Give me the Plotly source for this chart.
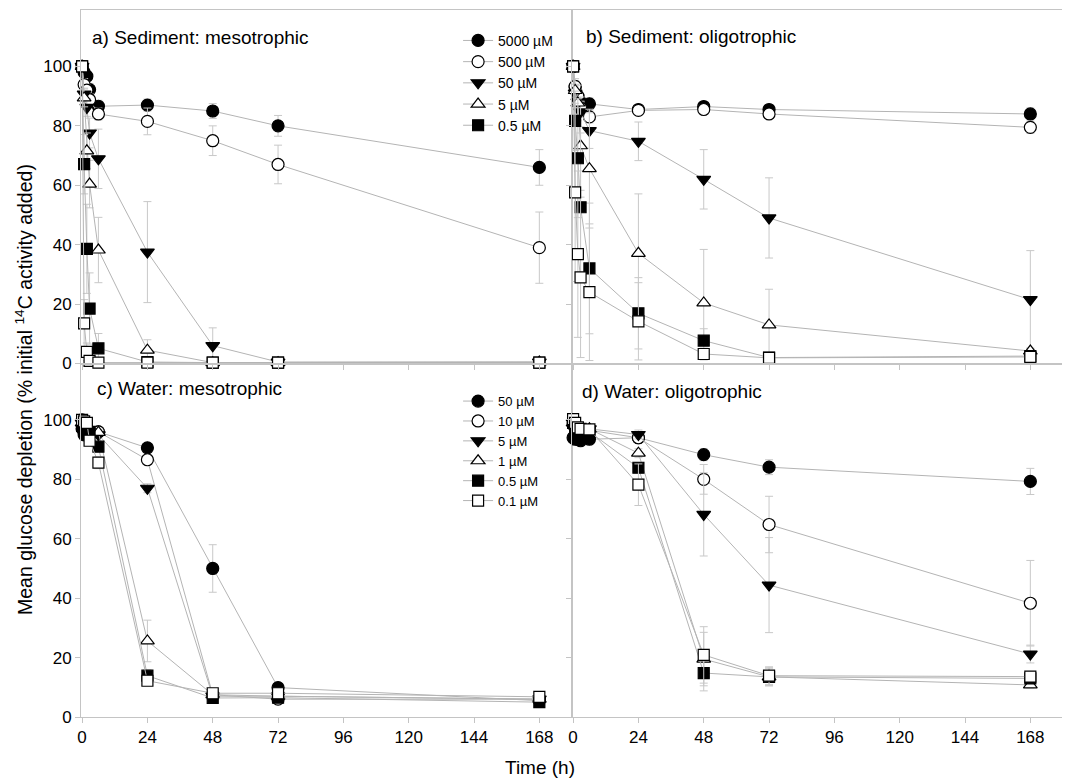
import plotly.graph_objects as go

# ---------------- data ----------------
times = [0, 0.75, 1.75, 2.75, 6, 24, 48, 72, 168]
x_ticks = [0, 24, 48, 72, 96, 120, 144, 168]
y_ticks = [0, 20, 40, 60, 80, 100]

sed_labels = ["5000 µM", "500 µM", "50 µM", "5 µM", "0.5 µM", "0.05 µM"]
wat_labels = ["50 µM", "10 µM", "5 µM", "1 µM", "0.5 µM", "0.1 µM"]
sed_in_legend = [True, True, True, True, True, False]

# a) Sediment: mesotrophic
a_vals = [
    [100, 98, 96.7, 92.2, 86.6, 87.0, 85.0, 80.0, 66.0],
    [100, 93.9, 92.0, 88.8, 84.0, 81.5, 75.0, 67.0, 39.0],
    [100, 90.7, 86.2, 77.6, 68.9, 37.5, 6.0, 0.5, 0.5],
    [100, 89.4, 71.6, 60.4, 38.2, 4.5, 0.3, 0.3, 0.5],
    [100, 67.1, 38.6, 18.5, 5.1, 0.5, 0.3, 0.3, 0.3],
    [100, 13.5, 3.9, 0.9, 0.3, 0.3, 0.3, 0.3, 0.3],
]
a_errs = [
    [0, 1, 1.5, 2, 2, 2, 2.5, 3.5, 6],
    [0, 2, 2, 2, 2, 4.5, 5, 6.5, 12],
    [0, 2, 3, 5, 10, 17, 6, 0.5, 0.5],
    [0, 3, 6, 8, 11, 3.5, 0.3, 0.3, 0.3],
    [0, 10, 15, 12, 5, 0.5, 0.3, 0.3, 0.3],
    [0, 8, 3, 1, 0.5, 0.3, 0.3, 0.3, 0.3],
]

# b) Sediment: oligotrophic
b_vals = [
    [100, 93.0, 90.0, 88.0, 87.4, 85.5, 86.5, 85.5, 84.0],
    [100, 93.3, 90.0, 86.0, 83.0, 85.2, 85.5, 84.0, 79.5],
    [100, 91.0, 88.0, 84.7, 78.4, 74.8, 62.0, 49.0, 21.5],
    [100, 91.9, 87.7, 73.3, 65.6, 37.1, 20.4, 13.0, 4.2],
    [100, 81.7, 69.1, 52.6, 32.0, 16.9, 7.7, 2.0, 2.5],
    [100, 57.6, 36.8, 29.0, 24.0, 14.2, 3.2, 1.9, 2.2],
]
b_errs = [
    [0, 2, 2, 2, 2, 1.5, 1, 1.5, 2],
    [0, 2, 2, 2, 2, 1.5, 1.5, 1.5, 2],
    [0, 3, 4, 5, 6, 6.5, 10, 13.5, 16.5],
    [0, 4, 6, 15, 20, 20, 18, 12, 1],
    [0, 10, 20, 25, 22, 12, 4, 1, 1],
    [0, 30, 28, 27, 23, 13, 2, 1, 1],
]

# c) Water: mesotrophic
c_vals = [
    [97, 95, 96, 96, 96, 90.6, 50.0, 9.9, 5.5],
    [100, 98, 97, 96, 96, 86.6, 7.5, 6.0, 6.0],
    [99, 97, 96, 96, 95, 77.0, 7.0, 7.0, 6.0],
    [99, 98, 96, 96, 95.8, 25.6, 7.5, 7.0, 6.0],
    [98, 97, 96, 96, 91, 13.9, 6.4, 6.5, 5.0],
    [100, 99.5, 99, 93, 85.6, 12.2, 8.0, 8.0, 6.8],
]
c_errs = [
    [1, 1, 1, 1, 1, 1, 8, 1.5, 0.5],
    [0.5, 1, 1, 1, 1, 1.5, 1, 0.5, 0.5],
    [0.5, 1, 1, 1, 1, 1.5, 1, 0.5, 0.5],
    [0.5, 1, 1, 1, 1, 7, 1, 0.5, 0.5],
    [0.5, 1, 1, 1, 1, 2, 1, 0.5, 0.5],
    [0.5, 1, 1, 1, 2, 1.5, 1, 0.5, 0.5],
]

# d) Water: oligotrophic
d_vals = [
    [94, 93.5, 93.5, 93, 93.5, 94.0, 88.3, 84.1, 79.3],
    [99, 98, 97.5, 97, 96.5, 94.0, 80.0, 64.8, 38.3],
    [99, 98, 97, 97, 97, 95.1, 68.2, 44.4, 21.2],
    [99, 98, 97, 97, 97, 88.8, 19.5, 13.5, 10.8],
    [99, 97, 96, 96, 96, 83.9, 14.8, 13.5, 13.0],
    [100.3, 99, 97.5, 97, 96.8, 78.2, 20.9, 13.9, 13.6],
]
d_errs = [
    [1, 1, 1, 1, 1, 1, 2, 2.5, 4.4],
    [0.5, 1, 1, 1, 1, 1.5, 5, 9.5, 14.4],
    [0.5, 1, 1, 1, 1, 1.5, 14, 16, 3],
    [0.5, 1, 1, 1, 1, 1.5, 9, 3, 1],
    [0.5, 1, 1, 1, 1, 1.5, 6, 3, 1],
    [0.5, 1, 1, 1, 1, 7, 9.5, 3, 1],
]

# ---------------- style ----------------
symbols = ["circle", "circle", "triangle-down", "triangle-up", "square", "square"]
fills = ["black", "white", "black", "white", "black", "white"]
msizes = [12, 12, 12, 12, 11, 11]
LINE_C = "#b4b4b4"
ERR_C = "#c8c8c8"
AX_C = "#c4c4c4"
FONT = "Arial, Liberation Sans, sans-serif"

fig = go.Figure()

panels = [
    ("x", "y", a_vals, a_errs, sed_labels, "legend", sed_in_legend),
    ("x2", "y2", b_vals, b_errs, sed_labels, None, None),
    ("x3", "y3", c_vals, c_errs, wat_labels, "legend2", [True] * 6),
    ("x4", "y4", d_vals, d_errs, wat_labels, None, None),
]

for xa, ya, vals, errs, labels, leg, inleg in panels:
    for i, (v, e) in enumerate(zip(vals, errs)):
        show = leg is not None and inleg[i]
        fig.add_trace(go.Scatter(
            x=times, y=v, xaxis=xa, yaxis=ya,
            mode="lines+markers", name=labels[i],
            line=dict(color=LINE_C, width=1),
            marker=dict(symbol=symbols[i], size=msizes[i], color=fills[i],
                        line=dict(color="black", width=1.2)),
            error_y=dict(type="data", array=e, color=ERR_C, thickness=1, width=4),
            cliponaxis=False,
            showlegend=show,
            legend=leg if leg else "legend",
        ))

axis_common = dict(
    showline=True, linecolor=AX_C, linewidth=1, mirror=True,
    ticks="outside", ticklen=5, tickcolor=AX_C, tickwidth=1,
    showgrid=False, zeroline=False,
    tickfont=dict(family=FONT, size=17, color="black"),
)

xr = [-0.4, 180]
yr = [0, 119]
# the page body has an 8 px margin, so the figure is sized to fit inside it
fig.update_layout(
    width=1062, height=774,
    paper_bgcolor="white", plot_bgcolor="white",
    margin=dict(l=73, r=7, t=2, b=65),
    font=dict(family=FONT, color="black"),
    xaxis=dict(domain=[0, 0.5], range=xr, tickvals=x_ticks, showticklabels=False, anchor="y", **axis_common),
    yaxis=dict(domain=[0.5, 1], range=yr, tickvals=y_ticks, anchor="x", **axis_common),
    xaxis2=dict(domain=[0.5, 1], range=xr, tickvals=x_ticks, showticklabels=False, anchor="y2", **axis_common),
    yaxis2=dict(domain=[0.5, 1], range=yr, tickvals=y_ticks, showticklabels=False, anchor="x2", **axis_common),
    xaxis3=dict(domain=[0, 0.5], range=xr, tickvals=x_ticks, anchor="y3", **axis_common),
    yaxis3=dict(domain=[0, 0.5], range=yr, tickvals=y_ticks, anchor="x3", **axis_common),
    xaxis4=dict(domain=[0.5, 1], range=xr, tickvals=x_ticks, anchor="y4", **axis_common),
    yaxis4=dict(domain=[0, 0.5], range=yr, tickvals=y_ticks, showticklabels=False, anchor="x4", **axis_common),
    legend=dict(x=0.384, y=0.979, xanchor="left", yanchor="top", bgcolor="rgba(0,0,0,0)",
                font=dict(family=FONT, size=14, color="black"), tracegroupgap=0),
    legend2=dict(x=0.384, y=0.468, xanchor="left", yanchor="top", bgcolor="rgba(0,0,0,0)",
                 font=dict(family=FONT, size=13, color="black"), tracegroupgap=0),
)

titles = [
    ("x domain", "y domain", 0.018, 0.923, "a) Sediment: mesotrophic"),
    ("x2 domain", "y2 domain", 0.024, 0.926, "b) Sediment: oligotrophic"),
    ("x3 domain", "y3 domain", 0.028, 0.93, "c) Water: mesotrophic"),
    ("x4 domain", "y4 domain", 0.016, 0.92, "d) Water: oligotrophic"),
]
for xr_, yr_, xx, yy, txt in titles:
    fig.add_annotation(xref=xr_, yref=yr_, x=xx, y=yy, text=txt, showarrow=False,
                       xanchor="left", yanchor="middle",
                       font=dict(family=FONT, size=19, color="black"))

fig.add_annotation(xref="paper", yref="paper", x=-0.058, y=0.4625,
                   text="Mean glucose depletion (% initial <sup>14</sup>C activity added)",
                   textangle=-90, showarrow=False, xanchor="center", yanchor="middle",
                   font=dict(family=FONT, size=19.5, color="black"))
fig.add_annotation(xref="paper", yref="paper", x=0.467, y=-0.072,
                   text="Time (h)", showarrow=False, xanchor="center", yanchor="middle",
                   font=dict(family=FONT, size=19, color="black"))

fig.write_html("out.html")
